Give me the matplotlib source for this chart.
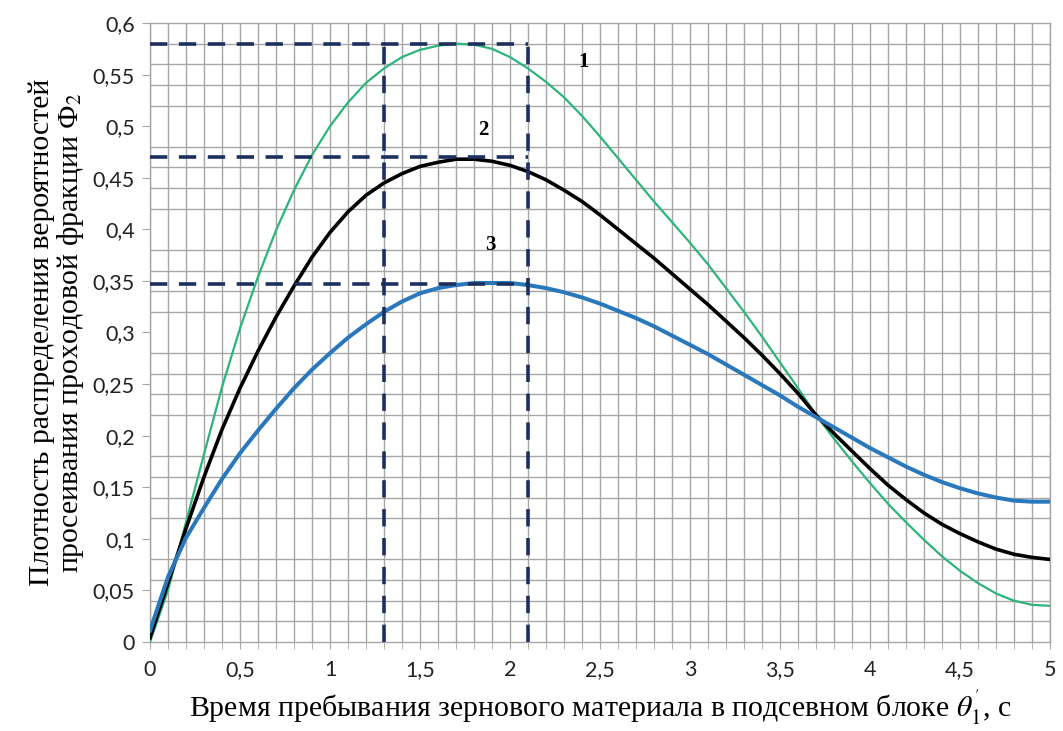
import matplotlib
matplotlib.use('Agg')
import matplotlib.pyplot as plt
from matplotlib.ticker import MultipleLocator, FuncFormatter

# data (time step 0.1 s)
theta = [round(0.1 * i, 1) for i in range(51)]

curve1 = [0.000, 0.050, 0.116, 0.182, 0.247, 0.304, 0.354, 0.399, 0.438, 0.472,
          0.500, 0.523, 0.542, 0.556, 0.567, 0.574, 0.578, 0.580, 0.579, 0.575,
          0.567, 0.556, 0.543, 0.528, 0.510, 0.490, 0.469, 0.448, 0.427, 0.407,
          0.387, 0.366, 0.343, 0.320, 0.296, 0.271, 0.246, 0.220, 0.197, 0.175,
          0.154, 0.134, 0.116, 0.099, 0.083, 0.069, 0.057, 0.047, 0.040, 0.036,
          0.035]

curve2 = [0.004, 0.057, 0.110, 0.160, 0.206, 0.246, 0.282, 0.315, 0.345, 0.373,
          0.397, 0.417, 0.433, 0.445, 0.454, 0.461, 0.465, 0.468, 0.468, 0.466,
          0.462, 0.456, 0.448, 0.438, 0.427, 0.414, 0.400, 0.386, 0.372, 0.357,
          0.342, 0.327, 0.311, 0.295, 0.278, 0.260, 0.241, 0.220, 0.202, 0.185,
          0.168, 0.152, 0.138, 0.125, 0.114, 0.105, 0.097, 0.090, 0.085, 0.082,
          0.080]

curve3 = [0.011, 0.063, 0.101, 0.130, 0.158, 0.183, 0.205, 0.226, 0.246, 0.264,
          0.280, 0.295, 0.308, 0.320, 0.330, 0.338, 0.343, 0.346, 0.348, 0.348,
          0.348, 0.346, 0.343, 0.339, 0.334, 0.328, 0.321, 0.314, 0.306, 0.297,
          0.288, 0.279, 0.269, 0.259, 0.249, 0.239, 0.228, 0.218, 0.208, 0.198,
          0.188, 0.179, 0.170, 0.162, 0.155, 0.149, 0.144, 0.140, 0.137, 0.136,
          0.136]

# reference (dashed) lines
peak_levels = [0.58, 0.47, 0.347]
time_bounds = [1.3, 2.1]
bound_top = 0.585

labels = ['1', '2', '3']
label_x = [2.41, 1.85, 1.89]
label_y = [0.562, 0.496, 0.385]

plt.rcParams['mathtext.fontset'] = 'stix'

fig = plt.figure(figsize=(10.63, 7.31), dpi=100)
ax = fig.add_axes([0.1411, 0.1218, 0.8467, 0.8467])

ax.plot(theta, curve1, color='#2db47a', linewidth=1.6, zorder=4)
ax.plot(theta, curve2, color='black', linewidth=2.6, zorder=4)
ax.plot(theta, curve3, color='#2a78bc', linewidth=2.9, zorder=4)

dash_col = '#1c2f5e'
for lv in peak_levels:
    ax.plot([0, time_bounds[1]], [lv, lv], color=dash_col, linewidth=2.6,
            dashes=(4.8, 3.2), zorder=5)
for tb in time_bounds:
    ax.plot([tb, tb], [0, bound_top], color=dash_col, linewidth=2.6,
            dashes=(4.8, 3.2), zorder=5)

for t, lx, ly in zip(labels, label_x, label_y):
    ax.text(lx, ly, t, fontsize=15, fontweight='bold', family='Liberation Serif',
            ha='center', va='center', zorder=6)

ax.set_xlim(0, 5)
ax.set_ylim(0, 0.6)

ax.xaxis.set_major_locator(MultipleLocator(0.5))
ax.xaxis.set_minor_locator(MultipleLocator(0.1))
ax.yaxis.set_major_locator(MultipleLocator(0.05))
ax.yaxis.set_minor_locator(MultipleLocator(0.02))

fmt = FuncFormatter(lambda v, p: ('%g' % round(v, 3)).replace('.', ','))
ax.xaxis.set_major_formatter(fmt)
ax.yaxis.set_major_formatter(fmt)

ax.grid(which='both', axis='x', color='#a6a6a6', linewidth=1.0)
ax.grid(which='minor', axis='y', color='#a6a6a6', linewidth=1.0)
ax.set_axisbelow(True)

ax.tick_params(axis='x', which='both', direction='out', length=5, color='#a6a6a6',
               labelsize=15.5, pad=8, labelcolor='#222222')
ax.tick_params(axis='y', which='major', direction='out', length=6, color='#a6a6a6',
               labelsize=15.5, pad=5, labelcolor='#222222')
ax.tick_params(axis='y', which='minor', length=0)
for lab in ax.get_xticklabels() + ax.get_yticklabels():
    lab.set_family('Lato')

for s in ax.spines.values():
    s.set_color('#a6a6a6')
    s.set_linewidth(1.0)

ax.set_xlabel("Время пребывания зернового материала в подсевном блоке $\\theta_1^{'}$, с",
              family='Liberation Serif', fontsize=21.5, labelpad=5)
ax.set_ylabel("Плотность распределения вероятностей\nпросеивания проходовой фракции Ф$_2$",
              family='Liberation Serif', fontsize=21.5, labelpad=5, linespacing=1.0)

fig.savefig('out.png', dpi=100)
